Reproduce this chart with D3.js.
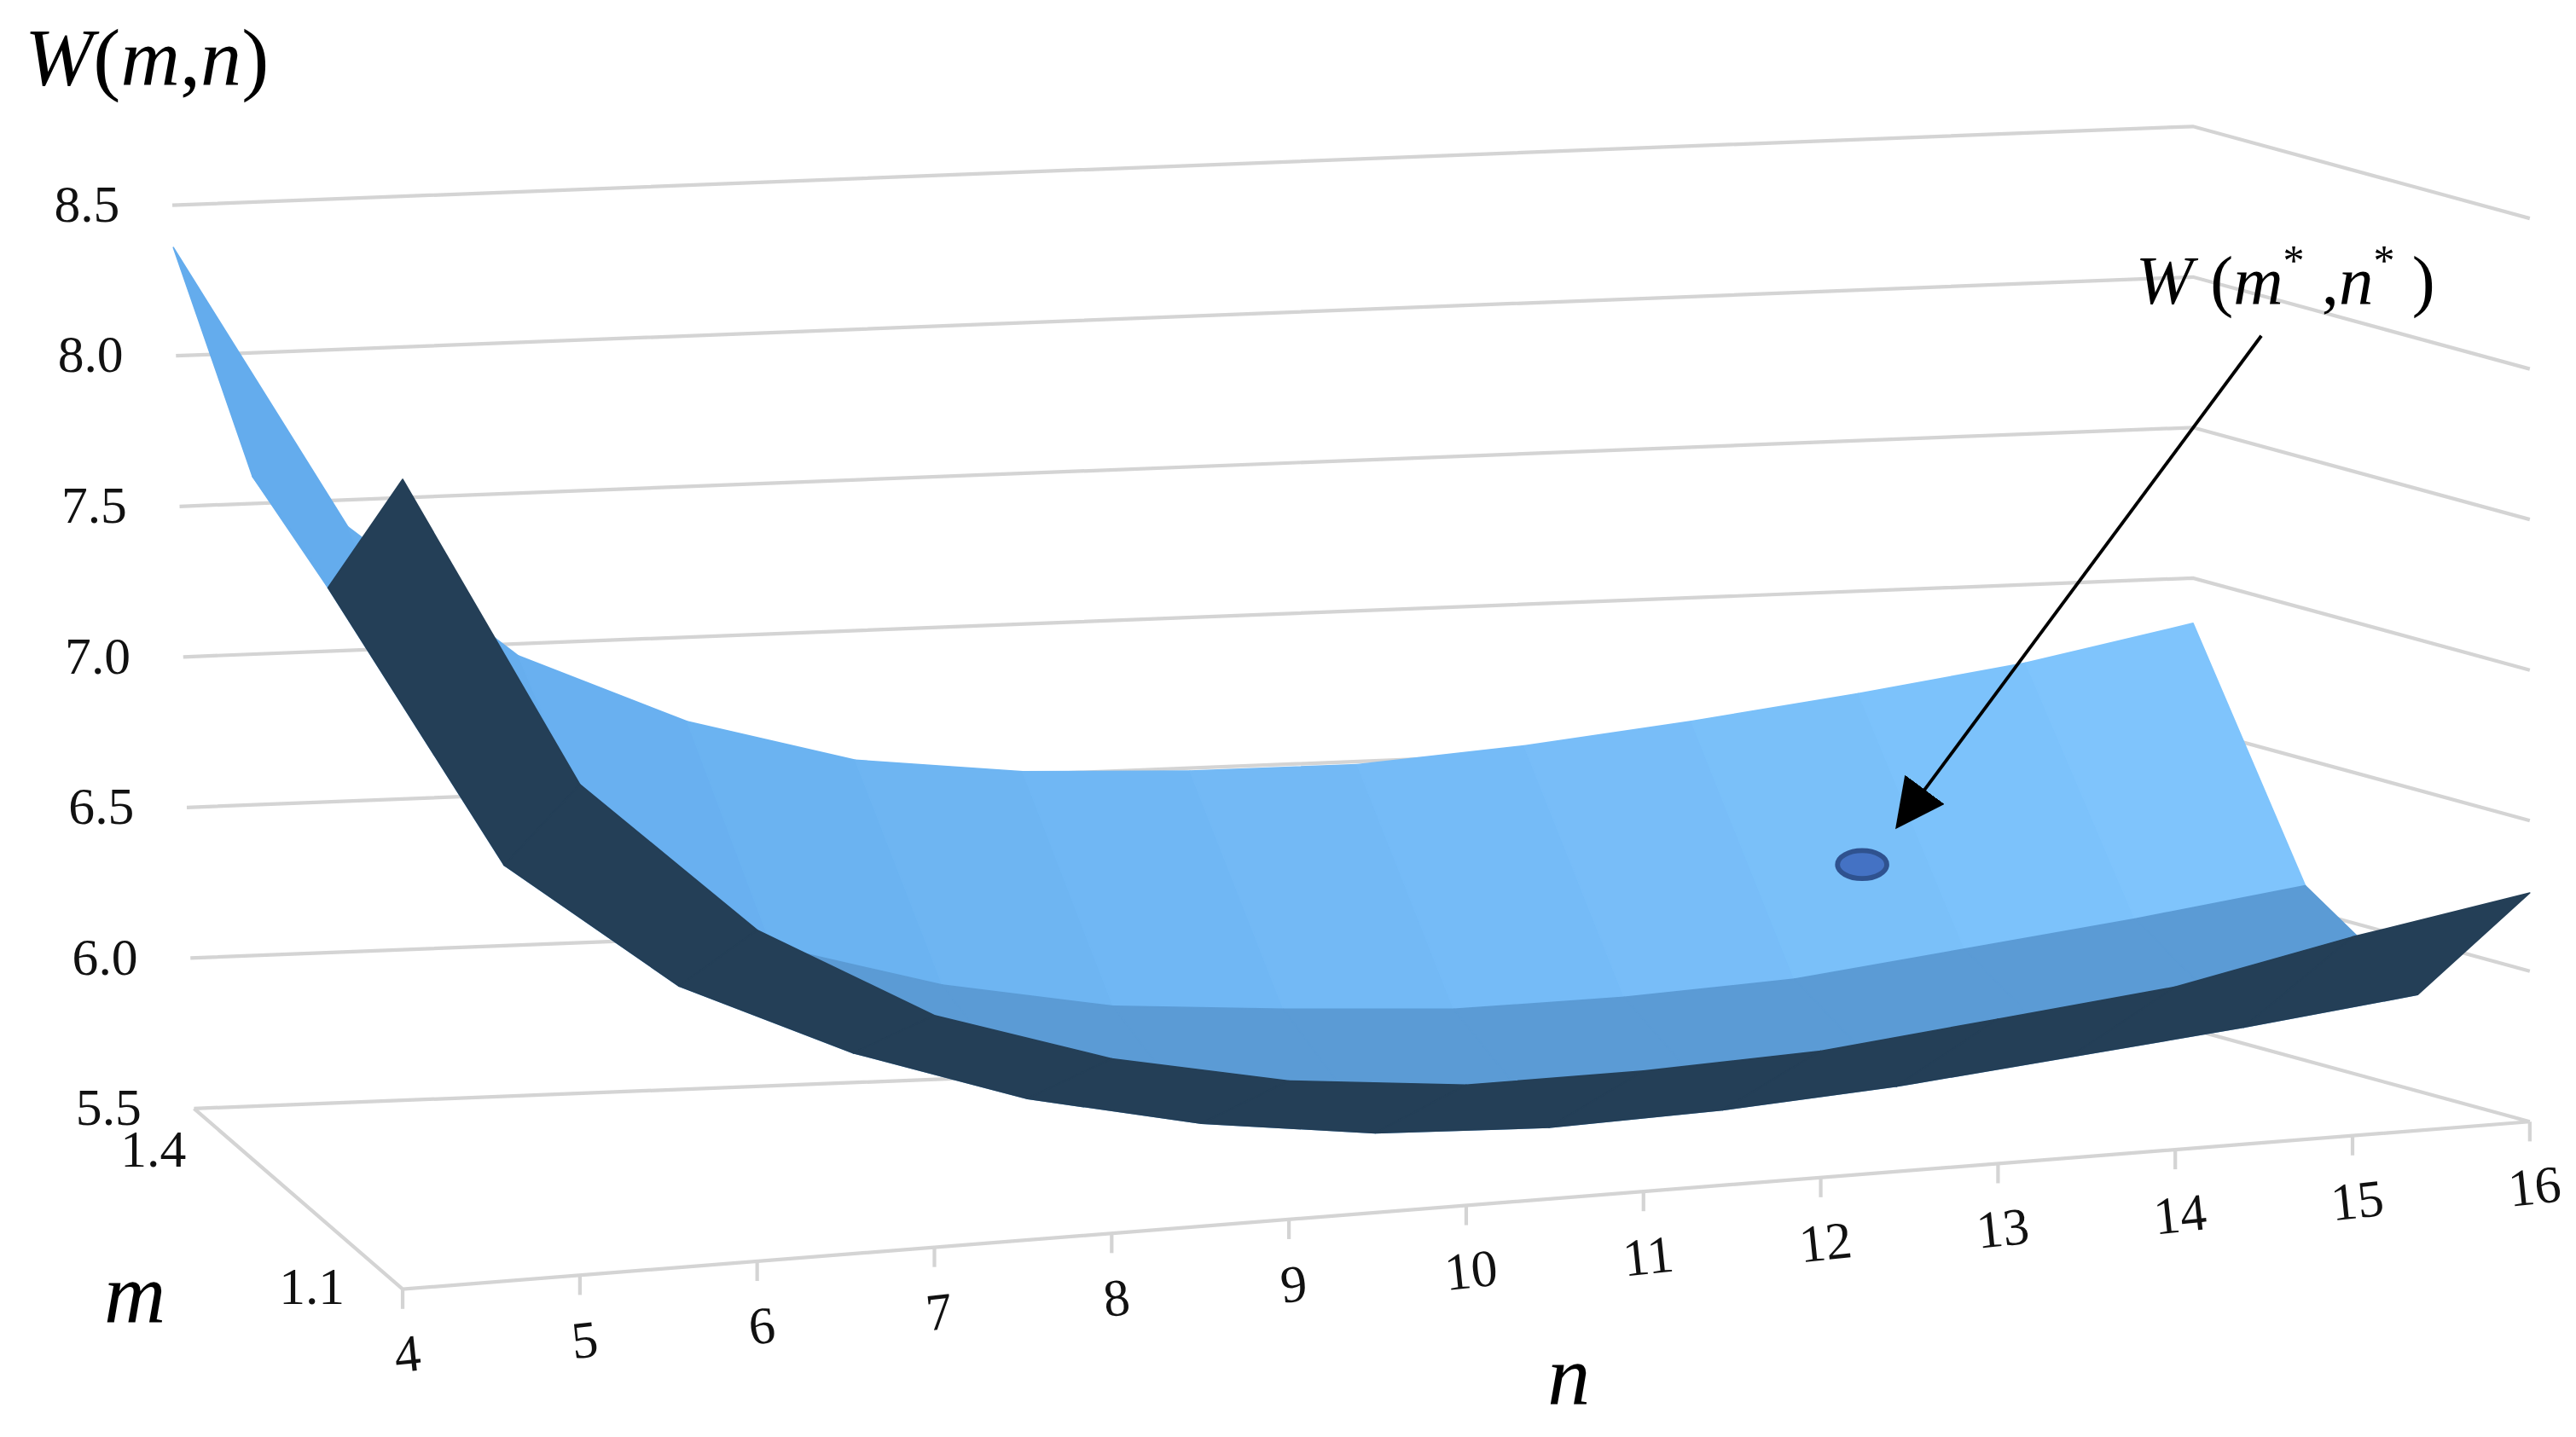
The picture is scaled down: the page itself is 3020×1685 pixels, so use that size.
<!DOCTYPE html>
<html><head><meta charset="utf-8">
<script src="https://cdn.jsdelivr.net/npm/d3@7/dist/d3.min.js"></script>
<style>html,body{margin:0;padding:0;background:#fff;}</style>
</head><body>
<svg id="c" width="3020" height="1685" viewBox="0 0 1568 875"></svg>
<script>
const nValues = [4,5,6,7,8,9,10,11,12,13,14,15,16];
const mRows = [1.1, 1.2, 1.3, 1.4];
const W_m11 = [8.19,7.13,6.60,6.27,6.08,5.96,5.90,5.90,5.92,5.98,6.04,6.16,6.26];
const W_m12 = [7.63,6.67,6.23,5.97,5.78,5.66,5.59,5.57,5.59,5.63,5.69,5.75,5.82];
const W_m13 = [7.80,6.95,6.50,6.15,5.99,5.89,5.85,5.82,5.83,5.86,5.93,6.00,6.08];
const W_m14 = [8.36,7.41,6.96,6.72,6.57,6.51,6.49,6.49,6.53,6.59,6.66,6.74,6.85];
const wTicks = [5.5,6.0,6.5,7.0,7.5,8.0,8.5];
const mTickLabels = [1.1, 1.4];
const optimum = {n:13.1, m:1.25, w:6.3};
const rows = [W_m11, W_m12, W_m13, W_m14];

const uS = d3.scaleLinear().domain([4,16]).range([0,1]);
const vS = d3.scaleLinear().domain([1.1,1.4]).range([0,1]);
const hS = d3.scaleLinear().domain([5.5,8.5]).range([0,550]);
function P(n,m,w){
  const u=uS(n), v=vS(m), h=hS(w);
  const fx=245+1295*u, fy=785-102*u, bx=118+1217*u, by=675-48*u;
  return [fx+(bx-fx)*v-(1-u)*v*0.024*h, fy+(by-fy)*v-h];
}
const svg=d3.select('#c');
const grid='#d4d4d4';
const line=d3.line();
wTicks.forEach(t=>{
  svg.append('path').attr('d',line([P(4,1.4,t),P(16,1.4,t),P(16,1.1,t)]))
    .attr('fill','none').attr('stroke',grid).attr('stroke-width',2.2);
});
svg.append('path').attr('d',line([P(4,1.4,5.5),P(4,1.1,5.5),P(16,1.1,5.5)]))
  .attr('fill','none').attr('stroke',grid).attr('stroke-width',2.2);
nValues.forEach(n=>{
  const p=P(n,1.1,5.5);
  svg.append('line').attr('x1',p[0]).attr('y1',p[1]).attr('x2',p[0]).attr('y2',p[1]+12)
    .attr('stroke',grid).attr('stroke-width',2.2);
});
const light=d3.scaleLinear().domain([4,16]).range(['#63abec','#80c5fd']);
for(let r=rows.length-2;r>=0;r--){
  for(let i=0;i<nValues.length-1;i++){
    const a=rows[r], b=rows[r+1];
    const pts=[P(nValues[i],mRows[r],a[i]),P(nValues[i+1],mRows[r],a[i+1]),
               P(nValues[i+1],mRows[r+1],b[i+1]),P(nValues[i],mRows[r+1],b[i])];
    const mean=(a[i]+a[i+1]+b[i]+b[i+1])/4;
    let col;
    if(r===0) col='#243f57';
    else if(r===1 && mean<6.0) col='#5b9bd5';
    else col=light(nValues[i]+0.5);
    svg.append('path').attr('d',line(pts)+'Z').attr('fill',col).attr('stroke',col).attr('stroke-width',0.8).attr('stroke-linejoin','round');
  }
}
const op=P(optimum.n,optimum.m,optimum.w);
svg.append('ellipse').attr('cx',op[0]).attr('cy',op[1]).attr('rx',15).attr('ry',8.5)
  .attr('fill','#4472c4').attr('stroke','#2f528f').attr('stroke-width',3);
svg.append('defs').append('marker').attr('id','ah').attr('viewBox','0 0 10 10').attr('refX',9).attr('refY',5)
  .attr('markerWidth',30).attr('markerHeight',30).attr('markerUnits','userSpaceOnUse').attr('orient','auto')
  .append('path').attr('d','M0,0L10,5L0,10Z').attr('fill','#000');
svg.append('line').attr('x1',op[0]+243).attr('y1',op[1]-322).attr('x2',op[0]+22).attr('y2',op[1]-24)
  .attr('stroke','#000').attr('stroke-width',2).attr('marker-end','url(#ah)');
const serif='"Liberation Serif","DejaVu Serif",serif';
const ann=svg.append('text').attr('x',1300).attr('y',185).attr('font-family',serif).attr('font-size',42).attr('font-style','italic');
ann.append('tspan').text('W');
ann.append('tspan').attr('font-style','normal').text(' (');
ann.append('tspan').text('m');
ann.append('tspan').attr('dy',-18).attr('font-size',26).attr('font-style','normal').text('*');
ann.append('tspan').attr('dy',18).attr('font-style','normal').text(' ,');
ann.append('tspan').text('n');
ann.append('tspan').attr('dy',-18).attr('font-size',26).attr('font-style','normal').text('*');
ann.append('tspan').attr('dy',18).attr('font-style','normal').text(' )');
wTicks.forEach(t=>{
  const p=P(4,1.4,t);
  svg.append('text').attr('x',p[0]-32).attr('y',p[1]+10).attr('text-anchor','end')
    .attr('font-family',serif).attr('font-size',32).attr('fill','#111').text(t.toFixed(1));
});
nValues.forEach(n=>{
  const p=P(n,1.1,5.5);
  svg.append('text').attr('transform',`translate(${p[0]+4},${p[1]+50}) rotate(-6)`).attr('text-anchor','middle')
    .attr('font-family',serif).attr('font-size',32).attr('fill','#111').text(n);
});
const mLab=d3.scaleLinear().domain([1.1,1.4]).range([1.136,1.364]);
mTickLabels.forEach(m=>{
  const p=P(4,mLab(m),5.5);
  svg.append('text').attr('x',p[0]-40).attr('y',p[1]+22).attr('text-anchor','middle')
    .attr('font-family',serif).attr('font-size',32).attr('fill','#111').text(m.toFixed(1));
});
const t=svg.append('text').attr('x',15).attr('y',52).attr('font-family',serif).attr('font-size',50).attr('font-style','italic');
t.append('tspan').text('W');t.append('tspan').attr('font-style','normal').text('(');
t.append('tspan').text('m');t.append('tspan').attr('font-style','normal').text(',');
t.append('tspan').text('n');t.append('tspan').attr('font-style','normal').text(')');
svg.append('text').attr('x',82).attr('y',805).attr('text-anchor','middle').attr('font-family',serif).attr('font-size',52).attr('font-style','italic').text('m');
svg.append('text').attr('x',955).attr('y',855).attr('text-anchor','middle').attr('font-family',serif).attr('font-size',52).attr('font-style','italic').text('n');
</script>
</body></html>
